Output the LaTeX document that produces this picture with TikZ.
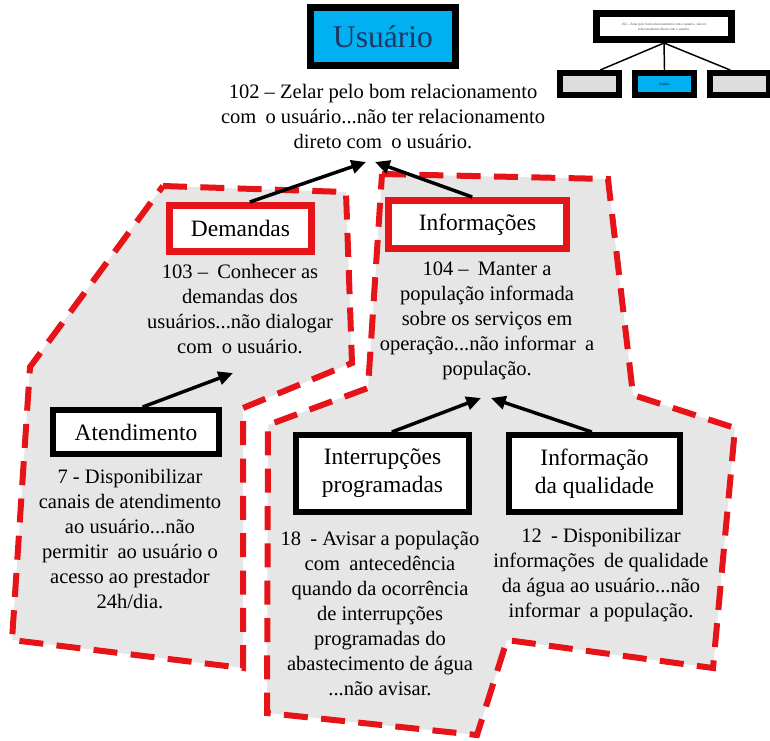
\documentclass[tikz,border=0pt]{standalone}
\usepackage{fontspec}
\setmainfont{Liberation Serif}
\usetikzlibrary{arrows.meta,calc}
\definecolor{dred}{RGB}{230,20,25}
\definecolor{lgray}{RGB}{230,230,230}
\definecolor{ublue}{RGB}{0,176,240}
\definecolor{unavy}{RGB}{31,56,100}
\definecolor{tgray}{RGB}{220,220,220}
\newcommand{\dsp}{\hspace{0.2em}\ }
\begin{document}
\begin{tikzpicture}[x=0.75pt,y=-0.75pt,
 region/.style={draw=dred,fill=lgray,line width=4.5pt,dash pattern=on 18pt off 10pt,line join=miter},
 redbox/.style={draw=dred,fill=white,line width=5.25pt,inner sep=0pt,font=\fontsize{17.6}{21}\selectfont},
 blackbox/.style={draw=black,fill=white,line width=4.5pt,inner sep=0pt,align=center,font=\fontsize{17.6}{21}\selectfont},
 body/.style={align=center,inner sep=0pt,font=\fontsize{15.4}{18.75}\selectfont},
 arr/.style={-{Triangle[length=11pt,width=10pt]},line width=2.6pt},
 thumbbox/.style={draw=black,line width=4.5pt,minimum width=44.25pt,minimum height=16.5pt,inner sep=0pt,font=\fontsize{2.6}{3}\selectfont},
 thumbline/.style={line width=1.1pt}]
\useasboundingbox (0,0) rectangle (770,740);

% regions
\filldraw[region] (163,186) -- (346,192) -- (352,363) -- (243,408) -- (243,668) -- (12,640) -- (30,367) -- cycle;
\filldraw[region] (382,174) -- (608,179) -- (633,395) -- (735,428) -- (713,668) -- (507,640) -- (477,735) -- (267,713) -- (268,425) -- (368,388) -- cycle;

% top
\node[draw=black,fill=ublue,line width=5.25pt,minimum width=108.75pt,minimum height=43.5pt,inner sep=0pt,text=unavy,font=\fontsize{23.7}{28}\selectfont] (usu) at (383,36.5) {Usuário};
\node[body] (t102) at (383,116.5) {102 – Zelar pelo bom relacionamento\\com\dsp o usuário...não ter relacionamento\\direto com\dsp o usuário.};

% boxes
\node[redbox,minimum width=106.5pt,minimum height=34.5pt] (dem) at (240.5,228.5) {Demandas};
\node[body] (t103) at (240,309.5) {103 –\dsp Conhecer as\\demandas dos\\usuários...não dialogar\\com\dsp o usuário.};
\node[redbox,minimum width=133.5pt,minimum height=36pt] (inf) at (477.5,224.5) {Informações};
\node[body] (t104) at (487,321) {104 –\dsp Manter a\\população informada\\sobre os serviços em\\operação...não informar\dsp a\\população.};
\node[blackbox,minimum width=124.5pt,minimum height=33pt] (ate) at (136,432) {Atendimento};
\node[body] (t7) at (130,539) {7 - Disponibilizar\\canais de atendimento\\ao usuário...não\\permitir\dsp ao usuário o\\acesso ao prestador\\24h/dia.};
\node[blackbox,minimum width=129.75pt,minimum height=57.75pt] (int) at (382.5,473.5) {Interrupções\\programadas};
\node[body] (t18) at (380,614) {18\dsp - Avisar a população\\com\dsp antecedência\\quando da ocorrência\\de interrupções\\programadas do\\abastecimento de água\\...não avisar.};
\node[blackbox,minimum width=128.25pt,minimum height=57.75pt] (qua) at (594.5,473.5) {Informação\\da qualidade};
\node[body] (t12) at (601,575) {12\dsp - Disponibilizar\\informações\dsp de qualidade\\da água ao usuário...não\\informar\dsp a população.};

% arrows
\coordinate (tipA) at (366,162);
\coordinate (tipB) at (375,162);
\coordinate (tipC) at (233,373);
\coordinate (tipD) at (481,398);
\coordinate (tipE) at (491,398);
\draw[arr] ([xshift=7pt]dem.north) -- (tipA);
\draw[arr] ([xshift=-4pt]inf.north) -- (tipB);
\draw[arr] ([xshift=5pt]ate.north) -- (tipC);
\draw[arr] ([xshift=7pt]int.north) -- (tipD);
\draw[arr] ([xshift=-2pt]qua.north) -- (tipE);

% thumbnail
\node[draw=black,fill=white,line width=5.25pt,minimum width=101.25pt,minimum height=19.5pt,inner sep=0pt,align=center,text=black!70,font=\fontsize{2.6}{3.5}\selectfont] (th) at (664,26.5) {102 – Zelar pelo bom relacionamento com o usuário...não ter\\relacionamento direto com o usuário.};
\node[thumbbox,fill=tgray] (thl) at (589.5,84) {};
\node[thumbbox,fill=ublue] (thm) at (664.5,84) {Usuário};
\node[thumbbox,fill=tgray] (thr) at (739.5,84) {};
\draw[thumbline] (th.south) -- ([xshift=8pt]thl.north);
\draw[thumbline] (th.south) -- (thm.north);
\draw[thumbline] (th.south) -- ([xshift=-7pt]thr.north);
\end{tikzpicture}
\end{document}
